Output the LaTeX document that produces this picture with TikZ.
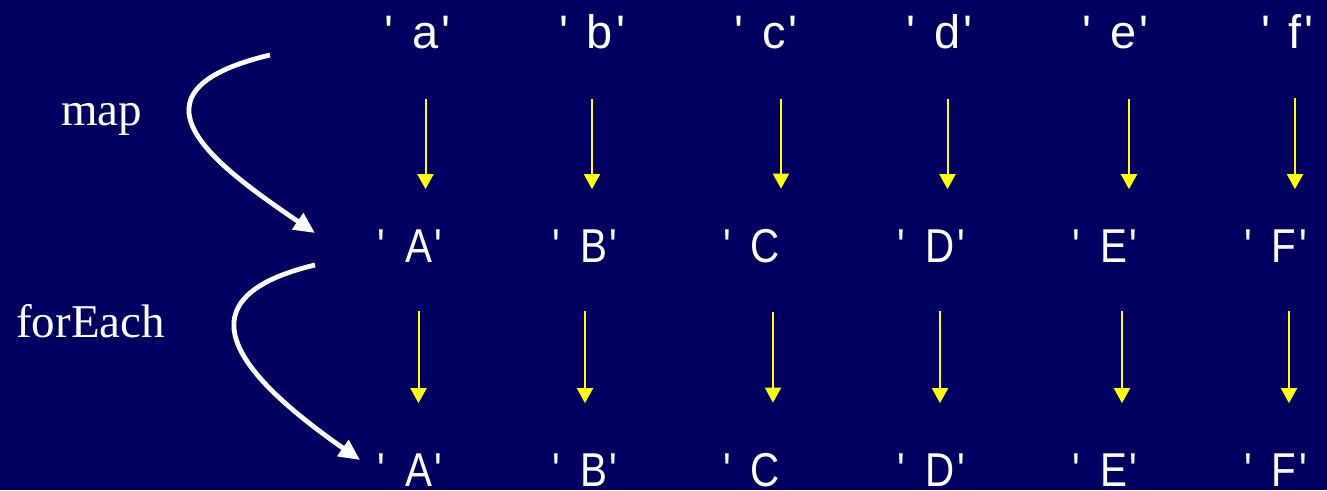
\documentclass[tikz,border=0pt]{standalone}
\usepackage{fontspec}
\setmainfont{Liberation Serif}
\newfontfamily\quotesans{Liberation Sans}
\newfontfamily\narrowsans[FakeStretch=0.85]{Liberation Sans}
\usetikzlibrary{arrows.meta}
\definecolor{SlideBlue}{RGB}{0, 0, 96}
\definecolor{ArrowYellow}{RGB}{255, 255, 0}
% quoted character, the node box is the letter only
\newcommand{\qletter}[1]{\llap{\textquotesingle\hspace{18.5pt}}#1\rlap{\hspace{3pt}\textquotesingle}}
\newcommand{\qopen}[1]{\llap{\textquotesingle\hspace{18.5pt}}#1}

\begin{document}
\begin{tikzpicture}[
  x=1pt, y=-1pt,
  small/.style={%
    font=\quotesans\fontsize{47}{47}\selectfont,
    text=white, inner sep=0pt, anchor=base},
  caps/.style={%
    font=\narrowsans\fontsize{47.5}{48}\selectfont,
    text=white, inner sep=0pt, anchor=base},
  lbl/.style={%
    font=\fontsize{47}{47}\selectfont,
    text=white, inner sep=0pt, anchor=base west},
  arr/.style={-{Triangle[length=15pt, width=16pt]}, line width=2pt, draw=ArrowYellow},
  toprow/.style={shorten <=50pt, shorten >=40pt},
  lowrow/.style={shorten <=49pt, shorten >=50pt},
  curvearr/.style={-{Triangle[length=21pt, width=19pt]}, line width=4.8pt, draw=white}
]
\fill[SlideBlue] (0,0) rectangle (1327,490);
\useasboundingbox (0,0) rectangle (1327,490);

\node[small] (a) at (425.5,48)  {\qletter{a}};
\node[small] (b) at (600,48)    {\qletter{b}};
\node[small] (c) at (774,48)    {\qletter{c}};
\node[small] (d) at (947.5,48)  {\qletter{d}};
\node[small] (e) at (1123.5,48) {\qletter{e}};
\node[small] (f) at (1295,48)   {\qletter{f}};

\node[caps] (A) at (418.5,262)  {\qletter{A}};
\node[caps] (B) at (593.5,262)  {\qletter{B}};
\node[caps] (C) at (765.5,262)  {\qopen{C}};
\node[caps] (D) at (940,262)    {\qletter{D}};
\node[caps] (E) at (1113.5,262) {\qletter{E}};
\node[caps] (F) at (1284,262)   {\qletter{F}};

\node[caps] (A2) at (418.5,486)  {\qletter{A}};
\node[caps] (B2) at (593.5,486)  {\qletter{B}};
\node[caps] (C2) at (765.5,486)  {\qopen{C}};
\node[caps] (D2) at (940,486)    {\qletter{D}};
\node[caps] (E2) at (1113.5,486) {\qletter{E}};
\node[caps] (F2) at (1284,486)   {\qletter{F}};

\node[lbl] (maplbl)  at (61,125) {map};
\node[lbl] (eachlbl) at (16,337) {forEach};

% map: lower case to upper case
\draw[arr, toprow] (a.south) -- (a.south |- A.north);
\draw[arr, toprow] ([xshift=-8pt]b.south) -- ([xshift=-8pt]b.south |- B.north);
\draw[arr, toprow] ([xshift=7pt]c.south) -- ([xshift=7pt]c.south |- C.north);
\draw[arr, toprow] (d.south) -- (d.south |- D.north);
\draw[arr, toprow] ([xshift=5.5pt]e.south) -- ([xshift=5.5pt]e.south |- E.north);
\draw[arr, toprow] (f.south) -- (f.south |- F.north);

% forEach: same values again
\draw[arr, lowrow] (A.south) -- (A.south |- A2.north);
\draw[arr, lowrow] ([xshift=-8.5pt]B.south) -- ([xshift=-8.5pt]B.south |- B2.north);
\draw[arr, lowrow] ([xshift=7.5pt]C.south) -- ([xshift=7.5pt]C.south |- C2.north);
\draw[arr, lowrow] (D.south) -- (D.south |- D2.north);
\draw[arr, lowrow] ([xshift=8.5pt]E.south) -- ([xshift=8.5pt]E.south |- E2.north);
\draw[arr, lowrow] ([xshift=5pt]F.south) -- ([xshift=5pt]F.south |- F2.north);

\coordinate (mapfrom)  at (270,55);
\coordinate (mapto)    at (315,233);
\coordinate (eachfrom) at (315,265);
\coordinate (eachto)   at (360,460);
\draw[curvearr] (mapfrom) .. controls (115,92) and (215,165) .. (mapto);
\draw[curvearr] (eachfrom) .. controls (160,302) and (260,390) .. (eachto);
\end{tikzpicture}
\end{document}
